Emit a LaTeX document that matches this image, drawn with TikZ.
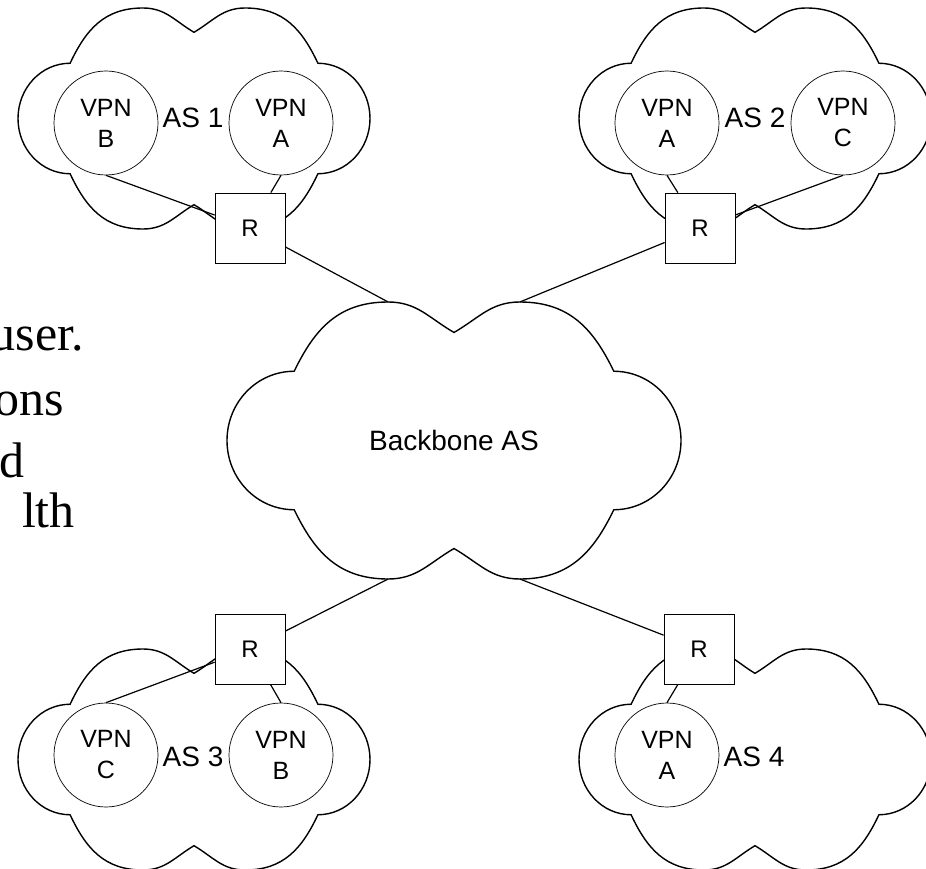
\documentclass[tikz,border=0pt]{standalone}
\usepackage{fontspec}
\setmainfont{Liberation Sans}
\newfontfamily\slidefont{Liberation Serif}
\begin{document}
\begin{tikzpicture}[
x=1pt,y=-1pt,
pics/ascloud/.style 2 args={code={
  \draw[line width=1.4pt,x=#1pt,y=-#2pt] (0.148,0.25)
    .. controls (0.193,0.098) and (0.245,0) .. (0.355,0) coordinate (-tl)
    .. controls (0.419,0) and (0.445,0.058) .. (0.5,0.11)
    .. controls (0.555,0.058) and (0.581,0) .. (0.645,0) coordinate (-tr)
    .. controls (0.755,0) and (0.807,0.098) .. (0.852,0.25)
    .. controls (0.934,0.25) and (1,0.362) .. (1,0.5)
    .. controls (1,0.638) and (0.934,0.75) .. (0.852,0.75)
    .. controls (0.807,0.902) and (0.755,1) .. (0.645,1) coordinate (-br)
    .. controls (0.581,1) and (0.555,0.942) .. (0.5,0.89)
    .. controls (0.445,0.942) and (0.419,1) .. (0.355,1) coordinate (-bl)
    .. controls (0.245,1) and (0.193,0.902) .. (0.148,0.75)
    .. controls (0.066,0.75) and (0,0.638) .. (0,0.5)
    .. controls (0,0.362) and (0.066,0.25) .. cycle;
}},
vpn/.style={circle,draw,line width=0.7pt,minimum size=104pt,inner sep=0pt,align=center,font=\fontsize{25}{31}\selectfont},
router/.style={rectangle,draw,fill=white,line width=0.8pt,minimum size=70pt,inner sep=0pt,font=\fontsize{24}{28}\selectfont},
aslabel/.style={inner sep=0pt,font=\fontsize{28}{32}\selectfont},
slide/.style={anchor=base east,inner sep=0pt,font=\slidefont\fontsize{50}{56}\selectfont},
link/.style={line width=1.2pt}
]
\useasboundingbox (0,0) rectangle (926,869);
\clip (0,0) rectangle (926,869);

% text of the slide behind the picture
\node[slide] (t1) at (84,350) {user.};
\node[slide] (t2) at (64,415) {ons};
\node[slide] (t3) at (25,477) {d};
\node[slide] (t4) at (75,527) {lth};

% clouds
\pic (as1) at (18,8) {ascloud={352}{221}};
\pic (as2) at (579,8) {ascloud={352}{221}};
\pic (as3) at (18,649) {ascloud={352}{221}};
\pic (as4) at (579,649) {ascloud={352}{221}};
\pic (bb) at (227,302) {ascloud={454}{277}};
\node[aslabel] (bbl) at (454,440) {Backbone AS};

% AS 1
\node[vpn] (b1) at (106,123) {VPN\\B};
\node[vpn] (a1) at (281,123) {VPN\\A};
\node[aslabel] (l1) at (193,118) {AS 1};
\node[router] (r1) at (250,228) {R};

% AS 2
\node[vpn] (a2) at (667,123) {VPN\\A};
\node[vpn] (c2) at (843,123) {VPN\\C};
\node[aslabel] (l2) at (755,118) {AS 2};
\node[router] (r2) at (700,228) {R};

% AS 3
\node[vpn] (c3) at (106,755) {VPN\\C};
\node[vpn] (b3) at (281,755) {VPN\\B};
\node[aslabel] (l3) at (193,757) {AS 3};
\node[router] (r3) at (250,649) {R};

% AS 4
\node[vpn] (a4) at (667,755) {VPN\\A};
\node[aslabel] (l4) at (754,757) {AS 4};
\node[router] (r4) at (699,649) {R};

\draw[link] (b1.south) -- (r1);
\draw[link] (a1.south) -- (r1);
\draw[link] (r1) -- (bb-tl);
\draw[link] (a2.south) -- (r2);
\draw[link] (c2.south) -- (r2);
\draw[link] (r2) -- (bb-tr);
\draw[link] (c3.north) -- (r3);
\draw[link] (b3.north) -- (r3);
\draw[link] (r3) -- (bb-bl);
\draw[link] (a4.north) -- (r4);
\draw[link] (r4) -- (bb-br);
\end{tikzpicture}
\end{document}
